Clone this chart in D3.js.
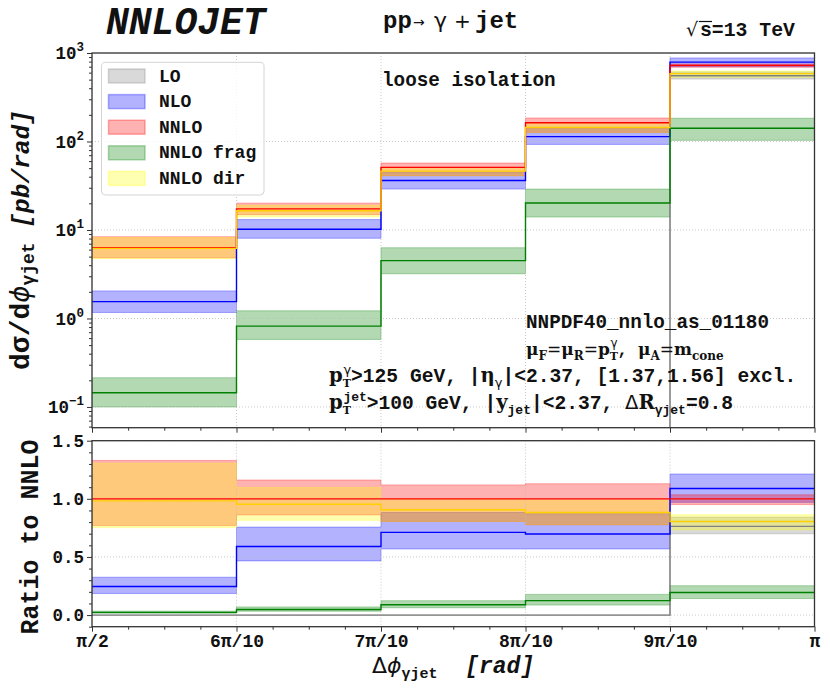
<!DOCTYPE html>
<html>
<head>
<meta charset="utf-8">
<script src="https://cdn.jsdelivr.net/npm/d3@7"></script>
<style>
	body { margin: 0; background: #fff; }
	svg text { fill: #111; white-space: pre; }
</style>
</head>
<body>
<svg id="chart" width="830" height="694"></svg>
<script>
// bin edges of delta phi, in units of pi
const binEdges = [0.5, 0.6, 0.7, 0.8, 0.9, 1.0];
const xTickLabels = ['π/2', '6π/10', '7π/10', '8π/10', '9π/10', 'π'];
const yTopTicks = [0.1, 1, 10, 100, 1000];
const yRatioTicks = [0.0, 0.5, 1.0, 1.5];

// d sigma / d phi [pb/rad], central value and scale band
const loCentral = [0, 0, 0, 0, 553];
const loLow = [0, 0, 0, 0, 507];
const loHigh = [0, 0, 0, 0, 611];

const nloCentral = [1.55, 10.2, 36.3, 113.6, 789];
const nloLow = [1.17, 8.06, 29.0, 92.7, 703];
const nloHigh = [2.05, 13.1, 45.0, 142, 880];

const nnloCentral = [6.3, 17.3, 51, 163, 725];
const nnloLow = [4.85, 14.9, 41.1, 126.7, 689];
const nnloHigh = [8.38, 20.1, 57.1, 184.2, 750];

const fragCentral = [0.145, 0.82, 4.5, 20.2, 141];
const fragLow = [0.10, 0.58, 3.2, 14.0, 103];
const fragHigh = [0.214, 1.22, 6.3, 29.0, 183];

const dirCentral = [6.19, 16.5, 46.2, 143.9, 584];
const dirLow = [4.74, 14.1, 41.1, 126.7, 532];
const dirHigh = [8.23, 19.0, 51.0, 161.4, 626];

const seriesNames = ['LO', 'NLO', 'NNLO', 'NNLO frag', 'NNLO dir'];
const bandColors = ['gray', 'blue', 'red', 'green', 'yellow'];
const lineColors = ['#808080', '#0000ff', '#ff0000', '#008000', '#ffd000'];

const MONO = "'Liberation Mono', 'DejaVu Sans Mono', monospace";
const SANS = "'DejaVu Sans', sans-serif";
const SERIF = "'DejaVu Serif', serif";

const series = [
	{ central: loCentral, low: loLow, high: loHigh },
	{ central: nloCentral, low: nloLow, high: nloHigh },
	{ central: nnloCentral, low: nnloLow, high: nnloHigh },
	{ central: fragCentral, low: fragLow, high: fragHigh },
	{ central: dirCentral, low: dirLow, high: dirHigh },
];

const svg = d3.select('#chart');
const plotLeft = 92;
const plotRight = 814.5;
const topY0 = 53, topY1 = 427.7;
const ratioY0 = 440.7, ratioY1 = 626.7;

const edges = binEdges.map((e) => e * Math.PI);
const x = d3.scaleLinear().domain([Math.PI / 2, Math.PI]).range([plotLeft, plotRight]);
const yTop = d3.scaleLog().domain([0.0583, 1000]).range([topY1, topY0]);
const yRatio = d3.scaleLinear().domain([-0.1, 1.5]).range([ratioY1, ratioY0]);

// text made of pieces with sub/superscripts
function rich(parent, px, py, parts, base = 19, anchor = 'start') {
	const text = parent.append('text').attr('x', px).attr('y', py).attr('text-anchor', anchor);
	let shift = 0;
	parts.forEach((p) => {
		const off = p.off || 0;
		text.append('tspan')
			.attr('dx', p.dx || 0)
			.attr('dy', off - shift)
			.style('font-size', (p.size || base) + 'px')
			.style('font-family', p.font || MONO)
			.style('font-style', p.italic ? 'italic' : 'normal')
			.style('font-weight', p.weight || 'bold')
			.text(p.t);
		shift = off;
	});
	return text;
}

const defs = svg.append('defs');
const panels = [
	{ id: 'clip-top', y: yTop, y0: topY0, y1: topY1, ratio: false },
	{ id: 'clip-ratio', y: yRatio, y0: ratioY0, y1: ratioY1, ratio: true },
];

panels.forEach((panel) => {
	defs.append('clipPath').attr('id', panel.id)
		.append('rect')
		.attr('x', plotLeft).attr('y', panel.y0)
		.attr('width', plotRight - plotLeft).attr('height', panel.y1 - panel.y0);

	const ys = (v) => panel.y(panel.ratio ? v : Math.max(v, 1e-4));
	const area = d3.area().x((d) => x(d.x)).y0((d) => ys(d.lo)).y1((d) => ys(d.hi)).curve(d3.curveStepAfter);
	const line = d3.line().x((d) => x(d.x)).y((d) => ys(d.c)).curve(d3.curveStepAfter);

	const pointsFor = (s) => edges.map((e, i) => {
		const j = Math.min(i, s.central.length - 1);
		const norm = panel.ratio ? nnloCentral[j] : 1;
		return { x: e, c: s.central[j] / norm, lo: s.low[j] / norm, hi: s.high[j] / norm };
	});

	const g = svg.append('g').attr('clip-path', `url(#${panel.id})`);

	// scale bands
	series.forEach((s, k) => {
		g.append('path')
			.attr('d', area(pointsFor(s)))
			.attr('fill', bandColors[k]).attr('fill-opacity', 0.3)
			.attr('stroke', bandColors[k]).attr('stroke-opacity', 0.3).attr('stroke-width', 1);
	});

	// dotted grid
	const gridY = panel.ratio ? yRatioTicks : yTopTicks;
	g.selectAll('.grid-x')
		.data(edges)
		.join('line')
		.attr('x1', (d) => x(d)).attr('x2', (d) => x(d))
		.attr('y1', panel.y0).attr('y2', panel.y1)
		.attr('stroke', '#bbb').attr('stroke-width', 0.8).attr('stroke-dasharray', '1,2');
	g.selectAll('.grid-y')
		.data(gridY)
		.join('line')
		.attr('x1', plotLeft).attr('x2', plotRight)
		.attr('y1', (d) => panel.y(d)).attr('y2', (d) => panel.y(d))
		.attr('stroke', '#bbb').attr('stroke-width', 0.8).attr('stroke-dasharray', '1,2');

	// central lines
	series.forEach((s, k) => {
		g.append('path')
			.attr('d', line(pointsFor(s)))
			.attr('fill', 'none')
			.attr('stroke', lineColors[k]).attr('stroke-width', 1.4);
	});

	// frame
	svg.append('rect')
		.attr('x', plotLeft).attr('y', panel.y0)
		.attr('width', plotRight - plotLeft).attr('height', panel.y1 - panel.y0)
		.attr('fill', 'none').attr('stroke', '#333').attr('stroke-width', 1.3);
});

const styleAxis = (g, size = 17.5) => {
	g.select('.domain').remove();
	g.selectAll('.tick line').attr('stroke', '#333').attr('stroke-width', 1);
	g.selectAll('.tick text')
		.attr('fill', '#111')
		.style('font-family', MONO).style('font-weight', 'bold').style('font-size', size + 'px');
};

// x ticks on both panels
const minorX = d3.range(0, 21).map((i) => Math.PI / 2 + i * Math.PI / 40).filter((v, i) => i % 4 !== 0);
[topY1, ratioY1].forEach((yPos, idx) => {
	svg.append('g')
		.attr('transform', `translate(0,${yPos})`)
		.call(d3.axisBottom(x).tickValues(minorX).tickSize(3).tickFormat(''))
		.call(styleAxis);
	svg.append('g')
		.attr('transform', `translate(0,${yPos})`)
		.call(d3.axisBottom(x).tickValues(edges).tickSize(5)
			.tickFormat((d, i) => (idx === 1 ? xTickLabels[i] : '')))
		.call(styleAxis, 18);
});

// y ticks, top panel (log)
const minorTop = [];
[0.01, 0.1, 1, 10, 100].forEach((dec) => {
	d3.range(2, 10).forEach((m) => {
		const v = dec * m;
		if (v > 0.0583 && v < 1000) minorTop.push(v);
	});
});
svg.append('g')
	.attr('transform', `translate(${plotLeft},0)`)
	.call(d3.axisLeft(yTop).tickValues(minorTop).tickSize(3).tickFormat(''))
	.call(styleAxis);
svg.append('g')
	.attr('transform', `translate(${plotLeft},0)`)
	.call(d3.axisLeft(yTop).tickValues(yTopTicks).tickSize(5).tickFormat(''))
	.call(styleAxis)
	.selectAll('.tick text')
	.each(function (d) {
		const t = d3.select(this);
		const exp = Math.round(Math.log10(d));
		t.append('tspan').text('10');
		t.append('tspan').attr('dy', -8).style('font-size', '12.5px')
			.text(exp < 0 ? '−' + Math.abs(exp) : String(exp));
	});

// y ticks, ratio panel
svg.append('g')
	.attr('transform', `translate(${plotLeft},0)`)
	.call(d3.axisLeft(yRatio).tickValues(d3.range(-1, 16).map((i) => i / 10).filter((v, i) => (i - 1) % 5 !== 0)).tickSize(3).tickFormat(''))
	.call(styleAxis);
svg.append('g')
	.attr('transform', `translate(${plotLeft},0)`)
	.call(d3.axisLeft(yRatio).tickValues(yRatioTicks).tickSize(5).tickFormat(d3.format('.1f')))
	.call(styleAxis);

// legend
const legend = svg.append('g');
legend.append('rect')
	.attr('x', 101.5).attr('y', 62.3).attr('width', 162.5).attr('height', 132.7)
	.attr('rx', 4).attr('fill', '#fff').attr('fill-opacity', 0.8)
	.attr('stroke', '#d4d4d4').attr('stroke-width', 1);
seriesNames.forEach((name, k) => {
	const cy = 76 + k * 25.6;
	legend.append('rect')
		.attr('x', 108.5).attr('y', cy - 7).attr('width', 36.5).attr('height', 14)
		.attr('fill', bandColors[k]).attr('fill-opacity', 0.3)
		.attr('stroke', bandColors[k]).attr('stroke-opacity', 0.3).attr('stroke-width', 1.5);
	rich(legend, 159, cy + 5.5, [{ t: name }], 18);
});

// titles
rich(svg, 106, 34, [{ t: 'NNLOJET', italic: true }], 38);
const proc = svg.append('g');
rich(proc, 383, 28, [{ t: 'pp' }], 24);
rich(proc, 413, 27, [{ t: '→', font: SANS, weight: 'normal' }], 14);
rich(proc, 434, 28, [{ t: 'γ', font: SANS, weight: 'normal' }], 22);
rich(proc, 454, 28, [{ t: '+', font: SANS, weight: 'normal' }], 20);
rich(proc, 475, 28, [{ t: 'jet' }], 24);

rich(svg, 686, 36, [{ t: '√', font: SANS, weight: 'normal' }], 19);
rich(svg, 700, 36, [{ t: 's=13 TeV' }], 19.8);
svg.append('line')
	.attr('x1', 699).attr('x2', 712).attr('y1', 21.5).attr('y2', 21.5)
	.attr('stroke', '#111').attr('stroke-width', 1.2);

rich(svg, 382, 86, [{ t: 'loose isolation' }], 19.3);

// cuts / setup annotations
const sub = (t, extra = {}) => Object.assign({ t, size: 13, off: 5 }, extra);
const sup = (t, extra = {}) => Object.assign({ t, size: 13, off: -8 }, extra);

rich(svg, 526, 328, [{ t: 'NNPDF40_nnlo_as_01180' }], 19.3);
rich(svg, 526, 355, [
	{ t: 'μ', font: SERIF }, sub('F', { font: SERIF, size: 12 }),
	{ t: '=', font: SANS, weight: 'normal' },
	{ t: 'μ', font: SERIF }, sub('R', { font: SERIF, size: 12 }),
	{ t: '=', font: SANS, weight: 'normal' },
	{ t: 'p', font: SERIF }, sub('T', { font: SERIF, size: 11 }), sup('γ', { font: SANS, dx: -7.5, weight: 'normal', size: 12 }),
	{ t: ', ' },
	{ t: 'μ', font: SERIF }, sub('A', { font: SERIF, size: 12 }),
	{ t: '=', font: SANS, weight: 'normal' },
	{ t: 'm', font: SERIF }, sub('cone', { font: SERIF, size: 12 }),
], 17);
rich(svg, 329, 382, [
	{ t: 'p', font: SERIF }, sub('T', { font: SERIF, size: 11 }), sup('γ', { font: SANS, dx: -7.5, weight: 'normal' }),
	{ t: '>125 GeV, |' },
	{ t: 'η', font: SERIF }, sub('γ', { font: SANS, weight: 'normal' }),
	{ t: '|<2.37, [1.37,1.56] excl.' },
], 19.6);
rich(svg, 329, 409, [
	{ t: 'p', font: SERIF }, sub('T', { font: SERIF, size: 11 }), sup('jet', { dx: -7.5 }),
	{ t: '>100 GeV, |' },
	{ t: 'y', font: SERIF }, sub('jet'),
	{ t: '|<2.37, ' },
	{ t: 'Δ', font: SANS, weight: 'normal' }, { t: 'R', font: SERIF }, sub('γjet'),
	{ t: '=0.8' },
], 19.6);

// axis labels
rich(svg, 0, 0, [
	{ t: 'dσ/d', size: 28 },
	{ t: 'ϕ', font: SANS, italic: true, weight: 'normal', size: 26 },
	sub('γjet', { size: 18 }),
	{ t: ' [pb/rad]', italic: true },
], 24.5, 'middle').attr('transform', 'translate(29,240) rotate(-90)');

rich(svg, 0, 0, [{ t: 'Ratio to NNLO' }], 25, 'middle')
	.attr('transform', 'translate(38,537) rotate(-90)');

rich(svg, 372, 673, [
	{ t: 'Δ', font: SANS, weight: 'normal' },
	{ t: 'ϕ', font: SANS, italic: true, weight: 'normal' },
	sub('γjet', { size: 15 }),
	{ t: '  [rad]', italic: true, size: 23 },
], 22);
</script>
</body>
</html>
